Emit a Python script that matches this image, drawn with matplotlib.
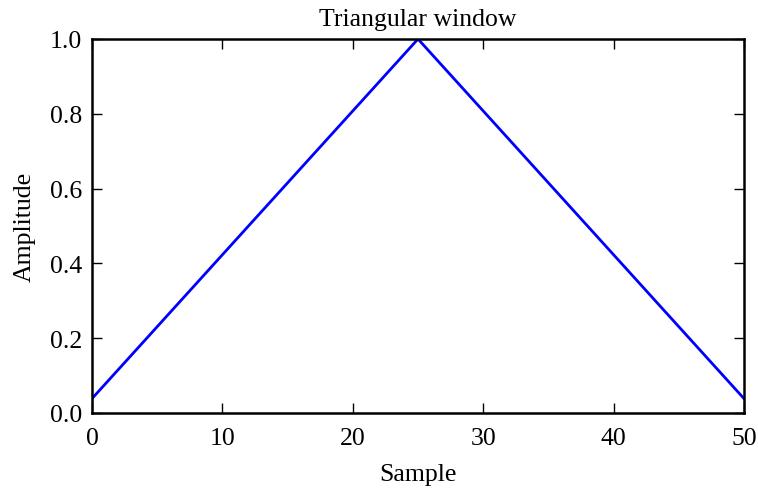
import matplotlib
matplotlib.use("Agg")
import matplotlib.pyplot as plt

# vertices of the window
sample = [0, 25, 50]
amplitude = [0.0385, 1.0, 0.0385]

x_ticks = [0, 10, 20, 30, 40, 50]
y_ticks = [0.0, 0.2, 0.4, 0.6, 0.8, 1.0]

plt.rcParams["font.family"] = ["Liberation Serif", "DejaVu Serif"]
fs = 18.5

fig = plt.figure(figsize=(7.58, 4.89), dpi=100)
ax = fig.add_axes([92 / 758, 1 - 414 / 489, 652 / 758, 374 / 489])
ax.plot(sample, amplitude, color="blue", linewidth=2)

ax.set_xlim(0, 50)
ax.set_ylim(0, 1)
ax.set_xticks(x_ticks)
ax.set_yticks(y_ticks)
ax.set_yticklabels([f"{v:.1f}" for v in y_ticks])
ax.tick_params(direction="in", top=True, right=True, length=7, width=1,
               labelsize=fs)
ax.tick_params(axis="x", pad=10)
ax.tick_params(axis="y", pad=7)
for s in ax.spines.values():
    s.set_linewidth(1.8)

ax.set_title("Triangular window", fontsize=fs, pad=10)
ax.set_xlabel("Sample", fontsize=fs, labelpad=10)
ax.set_ylabel("Amplitude", fontsize=fs, labelpad=10)

fig.savefig("out.png", dpi=100)
